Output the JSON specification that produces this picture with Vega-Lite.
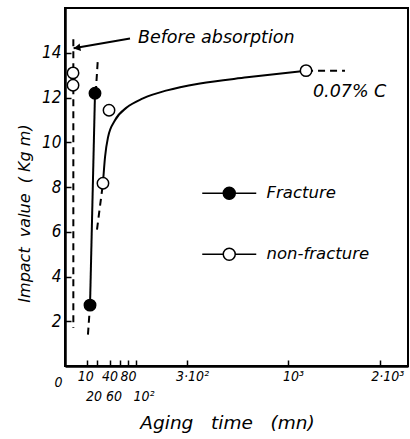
{
  "$schema": "https://vega.github.io/schema/vega-lite/v6.json",
  "width": 343,
  "height": 358,
  "autosize": "none",
  "padding": {"left": 65, "top": 8, "right": 2, "bottom": 73},
  "background": "white",
  "config": {
    "view": {"stroke": "black", "strokeWidth": 2},
    "font": "DejaVu Sans",
    "axis": {
      "grid": false,
      "domainColor": "black",
      "domainWidth": 2.5,
      "tickColor": "black",
      "tickWidth": 1.5,
      "tickSize": -6,
      "labelColor": "black",
      "labelFont": "DejaVu Sans Condensed, Liberation Sans Narrow, Liberation Sans",
      "labelFontStyle": "italic",
      "labelFontSize": 17,
      "titleColor": "black",
      "titleFont": "DejaVu Sans",
      "titleFontStyle": "italic",
      "titleFontWeight": "normal",
      "titleFontSize": 16,
      "labelOverlap": false,
      "labelBound": false
    }
  },
  "datasets": {
    "curve": [
      {"t": 29.0, "v": 8.17},
      {"t": 32.2, "v": 9.33},
      {"t": 37.2, "v": 10.22},
      {"t": 50.3, "v": 10.98},
      {"t": 77.3, "v": 11.56},
      {"t": 122.4, "v": 11.96},
      {"t": 209.3, "v": 12.32},
      {"t": 366.7, "v": 12.63},
      {"t": 666.5, "v": 12.9},
      {"t": 1169, "v": 13.2}
    ],
    "fracture": [
      {"t": 12.6, "v": 2.72},
      {"t": 18.1, "v": 12.19}
    ],
    "dashes": [
      {"seg": "before", "t": 1.4, "v": 14.6},
      {"seg": "before", "t": 1.4, "v": 1.7},
      {"seg": "fracTop", "t": 19.0, "v": 12.2},
      {"seg": "fracTop", "t": 21.5, "v": 13.6},
      {"seg": "fracBottom", "t": 12.6, "v": 2.72},
      {"seg": "fracBottom", "t": 10.6, "v": 1.4},
      {"seg": "curveBottom", "t": 29.0, "v": 8.17},
      {"seg": "curveBottom", "t": 20.6, "v": 6.1},
      {"seg": "curveRight", "t": 1169, "v": 13.2},
      {"seg": "curveRight", "t": 1577, "v": 13.2}
    ],
    "points": [
      {"type": "non-fracture", "t": 1.3, "v": 13.1},
      {"type": "non-fracture", "t": 1.3, "v": 12.55},
      {"type": "non-fracture", "t": 39.0, "v": 11.43},
      {"type": "non-fracture", "t": 29.0, "v": 8.17},
      {"type": "non-fracture", "t": 1169, "v": 13.2},
      {"type": "Fracture", "t": 18.1, "v": 12.19},
      {"type": "Fracture", "t": 12.6, "v": 2.72}
    ],
    "arrow": [
      {"t": 85, "v": 14.64},
      {"t": 1.5, "v": 14.2}
    ],
    "arrowhead": [
      {"t": 2.9, "v": 14.22}
    ],
    "notes": [
      {"t": 107, "v": 14.66, "label": "Before absorption"},
      {"t": 1237, "v": 12.25, "label": "0.07% C"}
    ]
  },
  "encoding": {
    "x": {
      "field": "t",
      "type": "quantitative",
      "scale": {"type": "sqrt", "domain": [0, 2367], "nice": false},
      "axis": {
        "title": "Aging\u00a0\u00a0 time\u00a0\u00a0 (mn)",
        "titleFontSize": 18.5,
        "titleX": 162,
        "titleY": 56,
        "titleBaseline": "middle",
        "labelFontSize": 14,
        "values": [0, 10, 20, 40, 60, 80, 100, 300, 1000, 2000],
        "labelExpr": "datum.value == 300 ? '3·10²' : datum.value == 100 ? '10²' : datum.value == 1000 ? '10³' : datum.value == 2000 ? '2·10³' : datum.label",
        "labelPadding": {"condition": {"test": "datum.value == 20 || datum.value == 60 || datum.value == 100", "value": 29}, "value": 9},
        "labelOffset": {"condition": [
          {"test": "datum.value == 0", "value": -3},
          {"test": "datum.value == 10", "value": -2},
          {"test": "datum.value == 20", "value": -3},
          {"test": "datum.value == 60", "value": -6},
          {"test": "datum.value == 100", "value": 8},
          {"test": "datum.value == 300", "value": 5},
          {"test": "datum.value == 1000", "value": 5},
          {"test": "datum.value == 2000", "value": 7}
        ], "value": 0},
        "labelAlign": {"condition": {"test": "datum.value == 0", "value": "right"}, "value": "center"},
        "tickSize": {"condition": {"test": "datum.value == 0", "value": 0}, "value": -6}
      }
    },
    "y": {
      "field": "v",
      "type": "quantitative",
      "scale": {"domain": [0, 16], "nice": false},
      "axis": {
        "title": "Impact\u00a0 value\u00a0 ( Kg m)",
        "titleX": -41,
        "titleY": 205,
        "titleAlign": "center",
        "titleBaseline": "middle",
        "values": [2, 4, 6, 8, 10, 12, 14],
        "labelPadding": 10
      }
    }
  },
  "layer": [
    {
      "data": {"name": "curve"},
      "mark": {"type": "line", "interpolate": "monotone", "color": "black", "strokeWidth": 2}
    },
    {
      "data": {"name": "fracture"},
      "mark": {"type": "line", "color": "black", "strokeWidth": 2}
    },
    {
      "data": {"name": "dashes"},
      "mark": {"type": "line", "color": "black", "strokeWidth": 2, "strokeDash": [7, 5]},
      "encoding": {"detail": {"field": "seg", "type": "nominal"}}
    },
    {
      "data": {"name": "arrow"},
      "mark": {"type": "line", "color": "black", "strokeWidth": 2}
    },
    {
      "data": {"name": "arrowhead"},
      "mark": {"type": "point", "shape": "triangle-left", "filled": true, "color": "black", "size": 60, "angle": 350, "opacity": 1}
    },
    {
      "data": {"name": "points"},
      "mark": {"type": "point", "shape": "circle", "filled": true, "size": 130, "stroke": "black", "strokeWidth": 1.5, "opacity": 1},
      "encoding": {
        "fill": {
          "field": "type",
          "type": "nominal",
          "scale": {"domain": ["Fracture", "non-fracture"], "range": ["black", "white"]},
          "legend": {
            "title": null,
            "orient": "none",
            "legendX": 156,
            "legendY": 177,
            "padding": 0,
            "symbolType": "M-4.5,0H-1M1,0H4.5M-1,0A1,1 0 1,1 1,0A1,1 0 1,1 -1,0",
            "symbolSize": 144,
            "symbolStrokeColor": "black",
            "symbolStrokeWidth": 1.5,
            "symbolOpacity": 1,
            "labelFont": "DejaVu Sans",
            "labelFontStyle": "italic",
            "labelFontSize": 16.5,
            "labelColor": "black",
            "labelOffset": 29,
            "rowPadding": 42
          }
        }
      }
    },
    {
      "data": {"name": "notes"},
      "mark": {"type": "text", "align": "left", "baseline": "middle", "font": "DejaVu Sans", "fontStyle": "italic", "fontSize": 17.5, "color": "black"},
      "encoding": {"text": {"field": "label", "type": "nominal"}}
    }
  ]
}
